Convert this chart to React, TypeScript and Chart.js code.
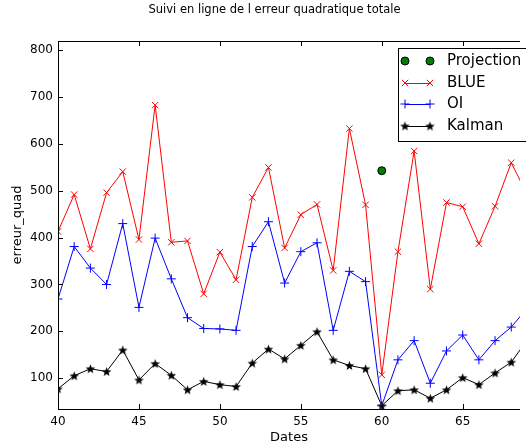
import React, { useEffect, useRef } from 'react';
import { Chart, registerables } from 'chart.js';
import { drawPoint } from 'chart.js/helpers';

Chart.register(...registerables);

const dates = [40, 41, 42, 43, 44, 45, 46, 47, 48, 49, 50, 51, 52, 53, 54, 55, 56, 57, 58, 59, 60, 61, 62, 63, 64, 65, 66, 67, 68, 69];
const blueErr = [413, 492, 376, 496, 541, 396, 683, 390, 393, 280, 369, 310, 486, 550, 378, 449, 471, 330, 633, 470, 107, 370, 585, 290, 475, 466, 387, 467, 560, 491];
const oiErr = [269, 381, 335, 300, 430, 251, 399, 312, 229, 206, 205, 202, 381, 434, 303, 370, 389, 202, 328, 306, 41, 139, 180, 89, 158, 192, 139, 180, 209, 250];
const kalmanErr = [77, 105, 120, 114, 160, 96, 131, 106, 75, 93, 86, 82, 132, 162, 141, 170, 199, 139, 127, 120, 41, 73, 75, 57, 75, 101, 86, 111, 134, 182];
const projDates = [60];
const projErr = [543];

const xMin = 40;
const xMax = 68.54;
const yMin = 34;
const yMax = 820;
const xStep = 5;
const yStep = 100;

const titleText = 'Suivi en ligne de l erreur quadratique totale';
const xLabel = 'Dates';
const yLabel = 'erreur_quad';
const seriesNames = ['Projection', 'BLUE', 'OI', 'Kalman'];

const FONT = '"DejaVu Sans", sans-serif';

function makeStar(): HTMLCanvasElement {
  const s = 11;
  const c = document.createElement('canvas');
  c.width = s;
  c.height = s;
  const g = c.getContext('2d')!;
  g.beginPath();
  for (let i = 0; i < 10; i++) {
    const r = i % 2 === 0 ? 5 : 2.1;
    const a = -Math.PI / 2 + (i * Math.PI) / 5;
    const px = s / 2 + r * Math.cos(a);
    const py = s / 2 + 0.5 + r * Math.sin(a);
    if (i === 0) g.moveTo(px, py);
    else g.lineTo(px, py);
  }
  g.closePath();
  g.fillStyle = '#000';
  g.fill();
  return c;
}

const zip = (xs: number[], ys: number[]) => xs.map((x, i) => ({ x, y: ys[i] }));

export default function App() {
  const ref = useRef<HTMLCanvasElement | null>(null);

  useEffect(() => {
    document.body.style.margin = '0';
    const canvas = ref.current!;
    const star = makeStar();

    const frame = {
      id: 'frame',
      afterDraw(chart: any) {
        const { ctx, chartArea: a } = chart;
        const xs = chart.scales.x;
        const ys = chart.scales.y;
        ctx.save();
        ctx.strokeStyle = '#000';
        ctx.lineWidth = 1;
        ctx.beginPath();
        ctx.moveTo(a.left + 0.5, a.bottom + 0.5);
        ctx.lineTo(a.left + 0.5, a.top + 0.5);
        ctx.lineTo(a.right, a.top + 0.5);
        ctx.moveTo(a.left, a.bottom + 0.5);
        ctx.lineTo(a.right, a.bottom + 0.5);
        const L = 5;
        xs.ticks.forEach((t: any) => {
          const px = Math.round(xs.getPixelForValue(t.value)) + 0.5;
          ctx.moveTo(px, a.bottom);
          ctx.lineTo(px, a.bottom - L);
          ctx.moveTo(px, a.top);
          ctx.lineTo(px, a.top + L);
        });
        ys.ticks.forEach((t: any) => {
          const py = Math.round(ys.getPixelForValue(t.value)) + 0.5;
          ctx.moveTo(a.left, py);
          ctx.lineTo(a.left + L, py);
        });
        ctx.stroke();

        // title
        ctx.fillStyle = '#000';
        ctx.font = `11.5px ${FONT}`;
        ctx.textAlign = 'center';
        ctx.textBaseline = 'middle';
        ctx.fillText(titleText, 274.5, 10);

        // legend
        const lx = 398.5, ly = 48.5, lw = 140, lh = 93;
        ctx.fillStyle = '#fff';
        ctx.fillRect(lx, ly, lw, lh);
        ctx.strokeStyle = '#000';
        ctx.strokeRect(lx, ly, lw, lh);
        const rows = [61, 83, 104, 126];
        chart.data.datasets.forEach((ds: any, i: number) => {
          const y = rows[i];
          const x1 = 405, x2 = 430;
          if (ds.showLine !== false) {
            ctx.strokeStyle = ds.borderColor;
            ctx.lineWidth = 1;
            ctx.beginPath();
            ctx.moveTo(x1, y + 0.5);
            ctx.lineTo(x2, y + 0.5);
            ctx.stroke();
          }
          ctx.fillStyle = ds.pointBackgroundColor;
          ctx.strokeStyle = ds.pointBorderColor;
          ctx.lineWidth = ds.pointBorderWidth;
          const opts = { pointStyle: ds.pointStyle, radius: ds.pointRadius, borderWidth: ds.pointBorderWidth, rotation: 0 };
          drawPoint(ctx, opts as any, x1, y);
          ctx.fillStyle = ds.pointBackgroundColor;
          ctx.strokeStyle = ds.pointBorderColor;
          drawPoint(ctx, opts as any, x2, y);
          ctx.fillStyle = '#000';
          ctx.font = `15px ${FONT}`;
          ctx.textAlign = 'left';
          ctx.textBaseline = 'middle';
          ctx.fillText(ds.label, 447, y);
        });
        ctx.restore();
      },
    };

    const chart = new Chart(canvas, {
      type: 'line',
      data: {
        datasets: [
          {
            label: seriesNames[0],
            data: zip(projDates, projErr),
            showLine: false,
            borderColor: '#008000',
            pointStyle: 'circle',
            pointRadius: 4,
            pointBackgroundColor: '#008000',
            pointBorderColor: '#000',
            pointBorderWidth: 1,
          },
          {
            label: seriesNames[1],
            data: zip(dates, blueErr),
            borderColor: '#ff0000',
            borderWidth: 1,
            pointStyle: 'crossRot',
            pointRadius: 4.5,
            pointBackgroundColor: '#ff0000',
            pointBorderColor: '#ff0000',
            pointBorderWidth: 1,
          },
          {
            label: seriesNames[2],
            data: zip(dates, oiErr),
            borderColor: '#0000ff',
            borderWidth: 1,
            pointStyle: 'cross',
            pointRadius: 4.5,
            pointBackgroundColor: '#0000ff',
            pointBorderColor: '#0000ff',
            pointBorderWidth: 1,
          },
          {
            label: seriesNames[3],
            data: zip(dates, kalmanErr),
            borderColor: '#000000',
            borderWidth: 1,
            pointStyle: star as any,
            pointRadius: 5,
            pointBackgroundColor: '#000000',
            pointBorderColor: '#000000',
            pointBorderWidth: 1,
          },
        ],
      },
      options: {
        responsive: false,
        animation: false,
        events: [],
        layout: { padding: { top: 41, right: 0, left: 0, bottom: 0 } },
        plugins: { legend: { display: false }, tooltip: { enabled: false }, title: { display: false } },
        elements: { line: { tension: 0 } },
        scales: {
          x: {
            type: 'linear',
            min: xMin,
            max: xMax,
            grid: { display: false, drawTicks: false },
            border: { display: false },
            ticks: { stepSize: xStep, includeBounds: false, padding: 6, color: '#000', font: { family: FONT, size: 12 } },
            title: { display: true, text: xLabel, color: '#000', font: { family: FONT, size: 13 }, padding: { top: 0, bottom: 3 } },
            afterFit: (s: any) => { s.height = 39; },
          },
          y: {
            type: 'linear',
            min: yMin,
            max: yMax,
            grid: { display: false, drawTicks: false },
            border: { display: false },
            ticks: { stepSize: yStep, includeBounds: false, padding: 5, color: '#000', font: { family: FONT, size: 12 } },
            title: { display: true, text: yLabel, color: '#000', font: { family: FONT, size: 13 }, padding: { top: 10, bottom: 0 } },
            afterFit: (s: any) => { s.width = 58; },
          },
        },
      },
      plugins: [frame],
    } as any);
    return () => chart.destroy();
  }, []);

  return <canvas ref={ref} width={526} height={448} style={{ display: 'block' }} />;
}
